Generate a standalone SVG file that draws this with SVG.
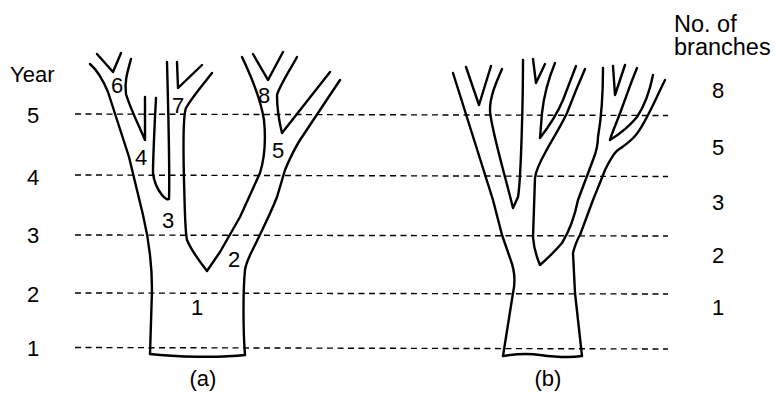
<svg xmlns="http://www.w3.org/2000/svg" width="775" height="394" viewBox="0 0 775 394">
<style>
.t{fill:none;stroke:#000;stroke-width:2.4;stroke-linecap:round;stroke-linejoin:round}
.d{stroke:#000;stroke-width:1.4;stroke-dasharray:6 4.5;fill:none}
text{font-family:"Liberation Sans",Arial,sans-serif;font-size:22px;fill:#000}
.c{text-anchor:middle}
.h{font-size:23.5px}
</style>
<rect width="775" height="394" fill="#fff"/>
<g id="year-lines">
<line class="d" x1="75" y1="114" x2="668" y2="115.5"/>
<line class="d" x1="75" y1="175" x2="668" y2="176.5"/>
<line class="d" x1="75" y1="235" x2="668" y2="236"/>
<line class="d" x1="75" y1="293" x2="668" y2="294"/>
<line class="d" x1="75" y1="347.5" x2="668" y2="349"/>
</g>
<g id="tree-a">
<path class="t" d="M150,354 C175,357 220,358 245,355"/>
<path class="t" d="M90,64 C97,70 103,80 108,92 L129,157 L143,215 C149,240 152,265 152,290 L150,354"/>
<path class="t" d="M97,54 L113,72 L121,53"/>
<path class="t" d="M131,59 C128,70 124,82 126,94 C130,108 140,128 145,140 L145,97"/>
<path class="t" d="M156,98 L155,117 C154,140 153,160 153,173 C154,182 158,190 162,195 C165,199 168,200 169,199 C170,170 168,100 167,62"/>
<path class="t" d="M177,62 L178,88 L202,65"/>
<path class="t" d="M212,73 C200,88 190,100 186,108 C183,115 183,140 184,180 C185,215 185,232 187,240 C192,252 200,262 207,271 L220,252 L240,217 L260,173 C264,160 266,140 264,120 C261,100 252,78 242,57"/>
<path class="t" d="M253,54 L268,80 L283,52"/>
<path class="t" d="M297,57 C290,70 280,85 277,95 C277,110 280,125 282,133 L330,72"/>
<path class="t" d="M340,80 L300,140 C295,148 290,158 285,170 L277,197 C270,215 262,230 255,245 C250,255 246,262 245,270 C243,290 243,330 245,355"/>
</g>
<g id="tree-b">
<path class="t" d="M503,356 C515,354 527,353 540,355 C555,357 570,358 582,356"/>
<path class="t" d="M503,356 L513,293 C516,280 514,268 510,258 L502,235 L493,200 L453,73"/>
<path class="t" d="M466,67 L479,105 L491,66"/>
<path class="t" d="M502,69 C495,85 490,97 490,110 C490,125 505,175 513,208 L518,197 C521,180 523,100 523,60"/>
<path class="t" d="M533,59 L536,83 L545,64"/>
<path class="t" d="M555,63 C550,75 544,95 542,113 L540,138 C550,125 558,112 563,100 L576,66"/>
<path class="t" d="M585,69 C578,85 572,100 567,113 C560,128 550,143 545,153 C540,162 536,170 535,178 L533,237 C534,250 537,258 540,265 C548,258 556,250 562,243 C570,230 575,215 578,200 L593,160 C597,150 598,140 598,137 C601,120 603,100 603,68"/>
<path class="t" d="M613,66 L615,95 L625,65"/>
<path class="t" d="M637,68 C630,85 625,100 623,105 C618,120 612,132 610,140 C618,135 628,128 637,117 C645,105 650,90 653,75"/>
<path class="t" d="M582,356 L575,293 L573,253 C575,245 577,240 580,235 L593,200 C597,190 600,183 605,170 C610,160 615,152 618,150 C625,145 630,142 635,136 C645,125 655,100 665,80"/>
</g>
<g id="labels-a">
<text class="c" x="117" y="93">6</text>
<text class="c" x="178" y="113">7</text>
<text class="c" x="141" y="165">4</text>
<text class="c" x="264" y="103">8</text>
<text class="c" x="278" y="158">5</text>
<text class="c" x="168" y="228">3</text>
<text class="c" x="234" y="267">2</text>
<text class="c" x="197" y="315">1</text>
<text class="c" x="203" y="386">(a)</text>
<text class="c" x="548" y="386">(b)</text>
</g>
<g id="year-axis">
<text x="10" y="82">Year</text>
<text class="c" x="33" y="123">5</text>
<text class="c" x="33" y="185">4</text>
<text class="c" x="33" y="243">3</text>
<text class="c" x="33" y="302">2</text>
<text class="c" x="33" y="356">1</text>
</g>
<g id="branch-axis">
<text class="h" x="674" y="32">No. of</text>
<text class="h" x="674" y="55">branches</text>
<text class="c" x="718" y="98">8</text>
<text class="c" x="718" y="155">5</text>
<text class="c" x="718" y="210">3</text>
<text class="c" x="718" y="263">2</text>
<text class="c" x="718" y="315">1</text>
</g>
</svg>
